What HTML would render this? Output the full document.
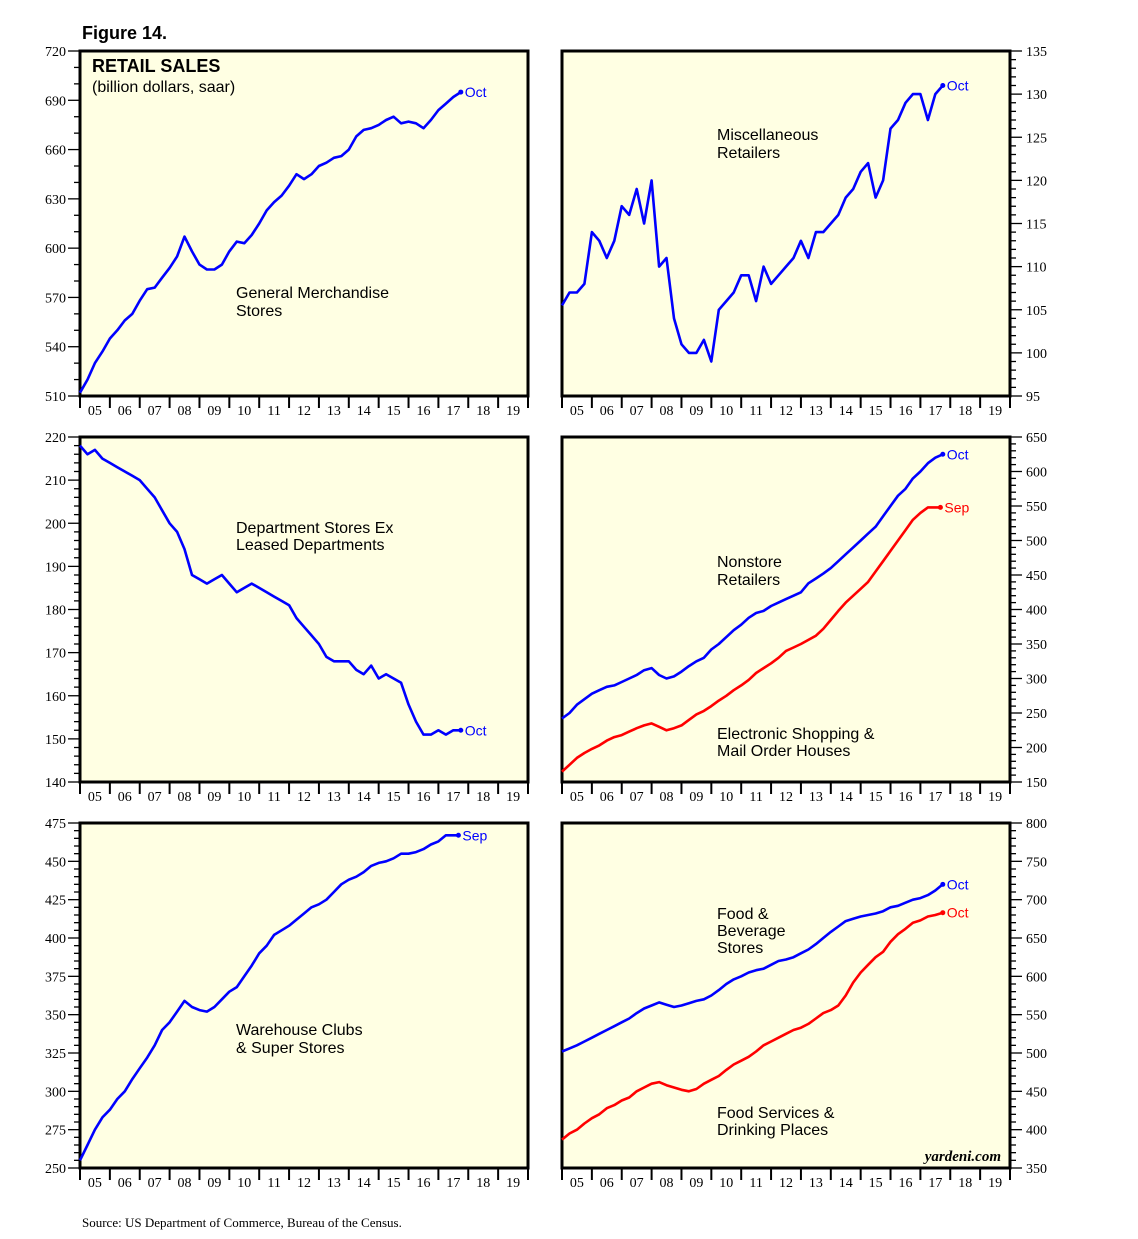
<!DOCTYPE html>
<html><head><meta charset="utf-8"><style>
body{margin:0;background:#fff;}
svg{display:block;}
</style></head><body>
<svg id="chart" width="1138" height="1239" xmlns="http://www.w3.org/2000/svg">
<text x="82" y="39" font-family="Liberation Sans, sans-serif" font-weight="bold" font-size="18">Figure 14.</text>
<text x="82" y="1227" font-family="Liberation Serif, serif" font-size="13">Source: US Department of Commerce, Bureau of the Census.</text>
</svg>
<script>
const years = ["05","06","07","08","09","10","11","12","13","14","15","16","17","18","19"];
const genMerch = [512,520,530,537,545,550,556,560,568,575,576,582,588,595,607,598,590,587,587,590,598,604,603,608,615,623,628,632,638,645,642,645,650,652,655,656,660,668,672,673,675,678,680,676,677,676,673,678,684,688,692,695];
const miscRet = [105.5,107,107,108,114,113,111,113,117,116,119,115,120,110,111,104,101,100,100,101.5,99,105,106,107,109,109,106,110,108,109,110,111,113,111,114,114,115,116,118,119,121,122,118,120,126,127,129,130,130,127,130,131];
const deptStores = [218,216,217,215,214,213,212,211,210,208,206,203,200,198,194,188,187,186,187,188,186,184,185,186,185,184,183,182,181,178,176,174,172,169,168,168,168,166,165,167,164,165,164,163,158,154,151,151,152,151,152,152];
const nonstore = [242,250,262,270,278,283,288,290,295,300,305,312,315,305,300,303,310,318,325,330,342,350,360,370,378,388,395,398,405,410,415,420,425,438,445,452,460,470,480,490,500,510,520,535,550,565,575,590,600,612,620,625];
const electronic = [165,175,185,192,198,203,210,215,218,223,228,232,235,230,225,228,232,240,248,253,260,268,275,283,290,298,308,315,322,330,340,345,350,356,362,372,385,398,410,420,430,440,455,470,485,500,515,530,540,548,548];
const warehouse = [255,265,275,283,288,295,300,308,315,322,330,340,345,352,359,355,353,352,355,360,365,368,375,382,390,395,402,405,408,412,416,420,422,425,430,435,438,440,443,447,449,450,452,455,455,456,458,461,463,467,467];
const foodBev = [502,506,510,515,520,525,530,535,540,545,552,558,562,566,563,560,562,565,568,570,575,582,590,596,600,605,608,610,615,620,622,625,630,635,642,650,658,665,672,675,678,680,682,685,690,692,696,700,702,706,712,720];
const foodServ = [387,395,400,408,415,420,428,432,438,442,450,455,460,462,458,455,452,450,453,460,465,470,478,485,490,495,502,510,515,520,525,530,533,538,545,552,556,562,575,592,605,615,625,632,645,655,662,670,673,678,680,683];

const svg = document.getElementById('chart');
const NS = 'http://www.w3.org/2000/svg';
function mk(tag, attrs, parent){const e=document.createElementNS(NS,tag);for(const k in attrs)e.setAttribute(k,attrs[k]);(parent||svg).appendChild(e);return e;}

function panel(p){
  const g = mk('g',{});
  
  
  const W=448,H=345;
  const bg = mk('rect',{x:p.x,y:p.y,width:W,height:H,fill:'#ffffe3',stroke:'#000','stroke-width':3},g);
  
  
  const xs = t => p.x + (t-2005)/15*W;
  const ys = v => p.y + H - (v-p.min)/(p.max-p.min)*H;
  // x ticks & labels
  for(let i=0;i<=15;i++){
    mk('line',{x1:xs(2005+i),x2:xs(2005+i),y1:p.y+H,y2:p.y+H+12,stroke:'#000','stroke-width':2},g);
  }
  years.forEach((lab,i)=>{
    const t = mk('text',{x:xs(2005.5+i),y:p.y+H+19,'text-anchor':'middle','font-family':'Liberation Serif, serif','font-size':14},g);
    t.textContent = lab;
    
    
  });
  // y ticks
  const right = p.side==='right';
  const ax = right ? p.x+W : p.x;
  const dir = right ? 1 : -1;
  for(let v=p.min; v<=p.max+1e-9; v+=p.minor){
    const isMajor = Math.abs(((v-p.min)/p.major) - Math.round((v-p.min)/p.major))<1e-6;
    mk('line',{x1:ax,x2:ax+dir*(isMajor?12:6),y1:ys(v),y2:ys(v),stroke:'#000','stroke-width':1.3},g);
    if(isMajor){
      const t = mk('text',{x:right?ax+16:ax-14,y:ys(v)+5,'text-anchor':right?'start':'end','font-family':'Liberation Serif, serif','font-size':14},g);
      t.textContent = String(Math.round(v));
      
      
    }
  }
  // series
  p.series.forEach(s=>{
    const pts = s.data.map((v,i)=>{
      const t = (i===s.data.length-1) ? s.end : 2005+i*0.25;
      return [xs(t), ys(v)];
    });
    const path = mk('polyline',{points:pts.map(q=>q[0].toFixed(1)+','+q[1].toFixed(1)).join(' '),fill:'none',stroke:s.color,'stroke-width':2.6,'stroke-linejoin':'round'},g);
    
    
    const last = pts[pts.length-1];
    mk('circle',{cx:last[0],cy:last[1],r:2.5,fill:s.color},g);
    const lt = mk('text',{x:last[0]+4,y:last[1]+5,fill:s.color,'font-family':'Liberation Sans, sans-serif','font-size':14},g);
    lt.textContent = s.label;
    
    
  });
  p.texts.forEach(tx=>{
    const t = mk('text',{x:tx[0],y:tx[1],'font-family':'Liberation Sans, sans-serif','font-size':tx[3]||16,'font-weight':tx[4]||'normal'},g);
    t.textContent = tx[2];
    
    
  });
}

const L=80, R=562;
panel({name:'general-merchandise-panel',x:L,y:51,min:510,max:720,major:30,minor:10,side:'left',
  series:[{name:'general-merchandise-line',data:genMerch,color:'#0000ff',end:2017.75,label:'Oct'}],
  texts:[[92,72,'RETAIL SALES',18,'bold'],[92,92,'(billion dollars, saar)',16],[236,298,'General Merchandise'],[236,316,'Stores']]});
panel({name:'misc-retailers-panel',x:R,y:51,min:95,max:135,major:5,minor:1,side:'right',
  series:[{name:'misc-retailers-line',data:miscRet,color:'#0000ff',end:2017.75,label:'Oct'}],
  texts:[[717,140,'Miscellaneous'],[717,158,'Retailers']]});
panel({name:'department-stores-panel',x:L,y:437,min:140,max:220,major:10,minor:2,side:'left',
  series:[{name:'department-stores-line',data:deptStores,color:'#0000ff',end:2017.75,label:'Oct'}],
  texts:[[236,533,'Department Stores Ex'],[236,550,'Leased Departments']]});
panel({name:'nonstore-panel',x:R,y:437,min:150,max:650,major:50,minor:10,side:'right',
  series:[{name:'nonstore-line',data:nonstore,color:'#0000ff',end:2017.75,label:'Oct'},
          {name:'electronic-shopping-line',data:electronic,color:'#ff0000',end:2017.67,label:'Sep'}],
  texts:[[717,567,'Nonstore'],[717,585,'Retailers'],[717,739,'Electronic Shopping &'],[717,756,'Mail Order Houses']]});
panel({name:'warehouse-clubs-panel',x:L,y:823,min:250,max:475,major:25,minor:5,side:'left',
  series:[{name:'warehouse-clubs-line',data:warehouse,color:'#0000ff',end:2017.67,label:'Sep'}],
  texts:[[236,1035,'Warehouse Clubs'],[236,1053,'& Super Stores']]});
panel({name:'food-panel',x:R,y:823,min:350,max:800,major:50,minor:10,side:'right',
  series:[{name:'food-beverage-line',data:foodBev,color:'#0000ff',end:2017.75,label:'Oct'},
          {name:'food-services-line',data:foodServ,color:'#ff0000',end:2017.75,label:'Oct'}],
  texts:[[717,919,'Food &'],[717,936,'Beverage'],[717,953,'Stores'],[717,1118,'Food Services &'],[717,1135,'Drinking Places']]});
const y = mk('text',{x:1001,y:1161,'text-anchor':'end','font-family':'Liberation Serif, serif','font-size':15,'font-style':'italic','font-weight':'bold'});
y.textContent='yardeni.com';


</script>
</body></html>
